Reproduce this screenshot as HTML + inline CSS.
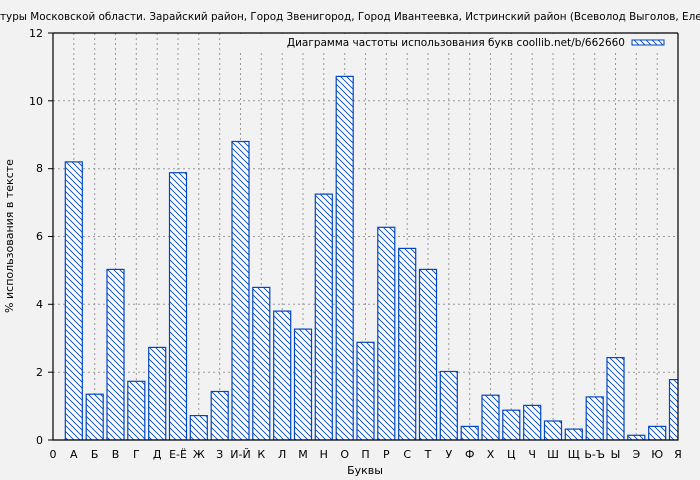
<!DOCTYPE html>
<html><head><meta charset="utf-8"><style>
body{margin:0;background:#f2f2f2;}
svg{display:block;font-family:"DejaVu Sans","Liberation Sans",sans-serif;}
</style></head><body>
<svg width="700" height="480" viewBox="0 0 700 480" xmlns="http://www.w3.org/2000/svg">
<defs>
<pattern id="h" width="6" height="6" patternUnits="userSpaceOnUse">
<rect width="6" height="6" fill="#fff"/>
<path d="M-1,-1 L7,7 M-4,2 L2,8 M2,-4 L8,2" stroke="#0047c0" stroke-width="0.9"/>
</pattern>
<clipPath id="c"><rect x="53" y="33" width="625" height="407"/></clipPath>
</defs>
<rect width="700" height="480" fill="#f2f2f2"/>
<text x="0" y="20" font-size="10.4" fill="#000">туры Московской области. Зарайский район, Город Звенигород, Город Ивантеевка, Истринский район (Всеволод Выголов, Елена</text>
<g stroke="#999" stroke-width="1" stroke-dasharray="2,3">
<line x1="53" y1="372.2" x2="678" y2="372.2"/><line x1="53" y1="304.3" x2="678" y2="304.3"/><line x1="53" y1="236.5" x2="678" y2="236.5"/><line x1="53" y1="168.7" x2="678" y2="168.7"/><line x1="53" y1="100.8" x2="678" y2="100.8"/>
<line x1="73.8" y1="33" x2="73.8" y2="440"/><line x1="94.7" y1="33" x2="94.7" y2="440"/><line x1="115.5" y1="33" x2="115.5" y2="440"/><line x1="136.3" y1="33" x2="136.3" y2="440"/><line x1="157.2" y1="33" x2="157.2" y2="440"/><line x1="178" y1="33" x2="178" y2="440"/><line x1="198.8" y1="33" x2="198.8" y2="440"/><line x1="219.7" y1="33" x2="219.7" y2="440"/><line x1="240.5" y1="33" x2="240.5" y2="440"/><line x1="261.3" y1="33" x2="261.3" y2="440"/><line x1="282.2" y1="33" x2="282.2" y2="440"/><line x1="303" y1="33" x2="303" y2="440"/><line x1="323.8" y1="33" x2="323.8" y2="440"/><line x1="344.7" y1="33" x2="344.7" y2="440"/><line x1="365.5" y1="33" x2="365.5" y2="440"/><line x1="386.3" y1="33" x2="386.3" y2="440"/><line x1="407.2" y1="33" x2="407.2" y2="440"/><line x1="428" y1="33" x2="428" y2="440"/><line x1="448.8" y1="33" x2="448.8" y2="440"/><line x1="469.7" y1="33" x2="469.7" y2="440"/><line x1="490.5" y1="33" x2="490.5" y2="440"/><line x1="511.3" y1="33" x2="511.3" y2="440"/><line x1="532.2" y1="33" x2="532.2" y2="440"/><line x1="553" y1="33" x2="553" y2="440"/><line x1="573.8" y1="33" x2="573.8" y2="440"/><line x1="594.7" y1="33" x2="594.7" y2="440"/><line x1="615.5" y1="33" x2="615.5" y2="440"/><line x1="636.3" y1="33" x2="636.3" y2="440"/><line x1="657.2" y1="33" x2="657.2" y2="440"/>
</g>
<g fill="url(#h)" stroke="#0047c0" stroke-width="1.2" clip-path="url(#c)">
<rect x="65.3" y="161.9" width="17" height="278.1"/>
<rect x="86.2" y="394.2" width="17" height="45.8"/>
<rect x="107" y="269.4" width="17" height="170.6"/>
<rect x="127.8" y="381.3" width="17" height="58.7"/>
<rect x="148.7" y="347.4" width="17" height="92.6"/>
<rect x="169.5" y="172.7" width="17" height="267.3"/>
<rect x="190.3" y="415.6" width="17" height="24.4"/>
<rect x="211.2" y="391.5" width="17" height="48.5"/>
<rect x="232" y="141.5" width="17" height="298.5"/>
<rect x="252.8" y="287.4" width="17" height="152.6"/>
<rect x="273.7" y="311.1" width="17" height="128.9"/>
<rect x="294.5" y="329.1" width="17" height="110.9"/>
<rect x="315.3" y="194.1" width="17" height="245.9"/>
<rect x="336.2" y="76.4" width="17" height="363.6"/>
<rect x="357" y="342.3" width="17" height="97.7"/>
<rect x="377.8" y="227.3" width="17" height="212.7"/>
<rect x="398.7" y="248.4" width="17" height="191.6"/>
<rect x="419.5" y="269.4" width="17" height="170.6"/>
<rect x="440.3" y="371.5" width="17" height="68.5"/>
<rect x="461.2" y="426.4" width="17" height="13.6"/>
<rect x="482" y="395.2" width="17" height="44.8"/>
<rect x="502.8" y="410.2" width="17" height="29.8"/>
<rect x="523.7" y="405.4" width="17" height="34.6"/>
<rect x="544.5" y="421" width="17" height="19"/>
<rect x="565.3" y="429.1" width="17" height="10.9"/>
<rect x="586.2" y="396.9" width="17" height="43.1"/>
<rect x="607" y="357.6" width="17" height="82.4"/>
<rect x="627.8" y="435.3" width="17" height="4.7"/>
<rect x="648.7" y="426.4" width="17" height="13.6"/>
<rect x="669.5" y="379.6" width="17" height="60.4"/>
</g>
<rect x="240" y="34" width="436" height="18" fill="#f2f2f2"/>
<text x="625" y="46" font-size="10.5" text-anchor="end">Диаграмма частоты использования букв coollib.net/b/662660</text>
<rect x="632" y="40" width="32" height="5" fill="url(#h)" stroke="#0047c0" stroke-width="1"/>
<path d="M53,33 V440 H678 V33 M53,33 H678" fill="none" stroke="#000" stroke-width="1.2"/>
<g stroke="#000" stroke-width="1">
<line x1="48" y1="440" x2="53" y2="440"/><line x1="48" y1="372.2" x2="53" y2="372.2"/><line x1="48" y1="304.3" x2="53" y2="304.3"/><line x1="48" y1="236.5" x2="53" y2="236.5"/><line x1="48" y1="168.7" x2="53" y2="168.7"/><line x1="48" y1="100.8" x2="53" y2="100.8"/><line x1="48" y1="33" x2="53" y2="33"/>
</g>
<g font-size="11" text-anchor="end">
<text x="43" y="444">0</text><text x="43" y="376">2</text><text x="43" y="308">4</text><text x="43" y="240">6</text><text x="43" y="172">8</text><text x="43" y="105">10</text><text x="43" y="37">12</text>
</g>
<g font-size="11" text-anchor="middle">
<text x="53" y="458">0</text><text x="73.8" y="458">А</text><text x="94.7" y="458">Б</text><text x="115.5" y="458">В</text><text x="136.3" y="458">Г</text><text x="157.2" y="458">Д</text><text x="178" y="458">Е-Ё</text><text x="198.8" y="458">Ж</text><text x="219.7" y="458">З</text><text x="240.5" y="458">И-Й</text><text x="261.3" y="458">К</text><text x="282.2" y="458">Л</text><text x="303" y="458">М</text><text x="323.8" y="458">Н</text><text x="344.7" y="458">О</text><text x="365.5" y="458">П</text><text x="386.3" y="458">Р</text><text x="407.2" y="458">С</text><text x="428" y="458">Т</text><text x="448.8" y="458">У</text><text x="469.7" y="458">Ф</text><text x="490.5" y="458">Х</text><text x="511.3" y="458">Ц</text><text x="532.2" y="458">Ч</text><text x="553" y="458">Ш</text><text x="573.8" y="458">Щ</text><text x="594.7" y="458">Ь-Ъ</text><text x="615.5" y="458">Ы</text><text x="636.3" y="458">Э</text><text x="657.2" y="458">Ю</text><text x="678" y="458">Я</text>
<text x="365" y="474">Буквы</text>
<text transform="translate(13,236) rotate(-90)">% использования в тексте</text>
</g>
</svg>
</body></html>
